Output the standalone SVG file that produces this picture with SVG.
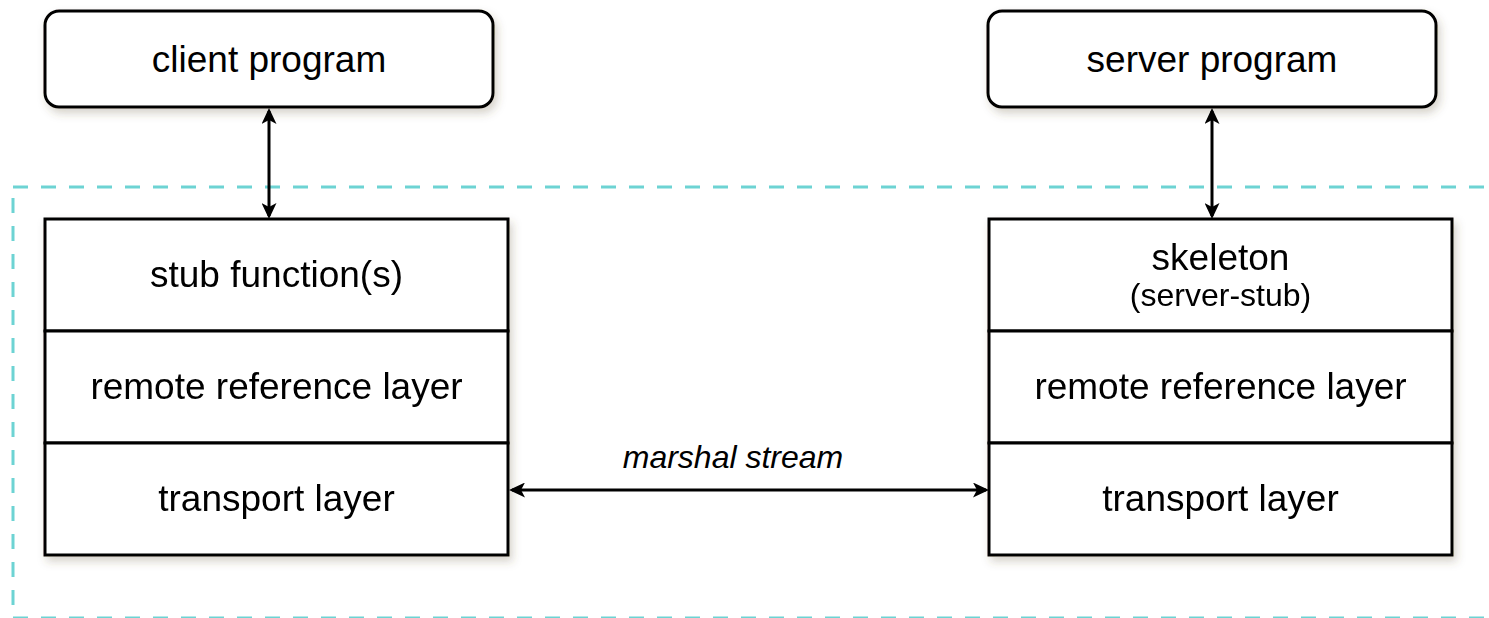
<svg xmlns="http://www.w3.org/2000/svg" width="1489" height="618" viewBox="0 0 1489 618">
  <style>
    .box { fill: #ffffff; stroke: #000000; stroke-width: 3; }
    .label { font-family: "Liberation Sans", Arial, Helvetica, sans-serif; font-size: 37px; fill: #000000; text-anchor: middle; }
    .small { font-size: 32px; }
    .italic { font-style: italic; font-size: 32px; }
    .link { stroke: #000000; stroke-width: 3; fill: none; marker-start: url(#arrow); marker-end: url(#arrow); }
    .boundary { fill: none; stroke: #6dd3d3; stroke-width: 3; stroke-dasharray: 15 13; }
  </style>
  <defs>
    <filter id="shadow" x="-10%" y="-10%" width="130%" height="140%">
      <feDropShadow dx="3" dy="5" stdDeviation="4" flood-color="#5a5030" flood-opacity="0.25"/>
    </filter>
    <marker id="arrow" viewBox="0 0 16 15" refX="13" refY="7.5" markerWidth="16" markerHeight="15" markerUnits="userSpaceOnUse" orient="auto-start-reverse">
      <path d="M0,0 L16,7.5 L0,15 L4,7.5 Z" fill="#000000"/>
    </marker>
  </defs>

  <!-- dashed boundary around the RMI runtime -->
  <rect class="boundary" x="13" y="187" width="1500" height="431"/>

  <!-- client side -->
  <g id="client-program">
    <rect class="box" x="45" y="11" width="448" height="96" rx="14" ry="14" filter="url(#shadow)"/>
    <text class="label" x="269" y="72">client program</text>
  </g>

  <g id="client-stack" filter="url(#shadow)">
    <rect x="45" y="219" width="463" height="336" fill="#ffffff"/>
    <g id="stub-functions">
      <rect class="box" x="45" y="219" width="463" height="112"/>
      <text class="label" x="276.5" y="287">stub function(s)</text>
    </g>
    <g id="client-remote-reference">
      <rect class="box" x="45" y="331" width="463" height="112"/>
      <text class="label" x="276.5" y="399">remote reference layer</text>
    </g>
    <g id="client-transport">
      <rect class="box" x="45" y="443" width="463" height="112"/>
      <text class="label" x="276.5" y="511">transport layer</text>
    </g>
  </g>

  <!-- server side -->
  <g id="server-program">
    <rect class="box" x="988" y="11" width="448" height="96" rx="14" ry="14" filter="url(#shadow)"/>
    <text class="label" x="1212" y="72">server program</text>
  </g>

  <g id="server-stack" filter="url(#shadow)">
    <rect x="989" y="219" width="463" height="336" fill="#ffffff"/>
    <g id="skeleton">
      <rect class="box" x="989" y="219" width="463" height="112"/>
      <text class="label" x="1220.5" y="270">skeleton</text>
      <text class="label small" x="1220.5" y="306">(server-stub)</text>
    </g>
    <g id="server-remote-reference">
      <rect class="box" x="989" y="331" width="463" height="112"/>
      <text class="label" x="1220.5" y="399">remote reference layer</text>
    </g>
    <g id="server-transport">
      <rect class="box" x="989" y="443" width="463" height="112"/>
      <text class="label" x="1220.5" y="511">transport layer</text>
    </g>
  </g>

  <!-- connectors -->
  <g id="connectors">
    <line class="link" x1="269" y1="111" x2="269" y2="216"/>
    <line class="link" x1="1212" y1="111" x2="1212" y2="216"/>
    <line class="link" x1="512" y1="490" x2="986" y2="490"/>
    <text class="label italic" x="733" y="468">marshal stream</text>
  </g>
</svg>
